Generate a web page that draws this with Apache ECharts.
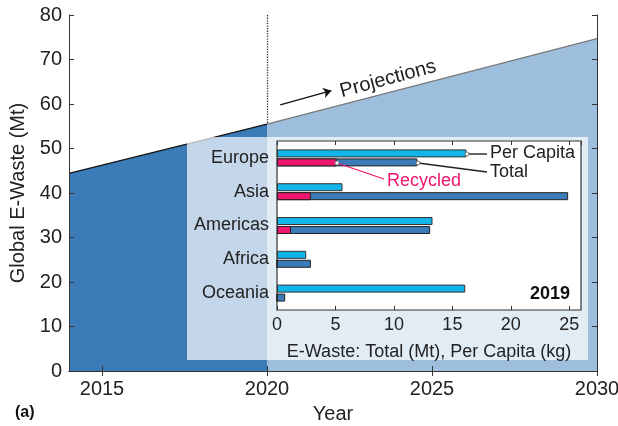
<!DOCTYPE html>
<html>
<head>
<meta charset="utf-8">
<script src="https://cdn.jsdelivr.net/npm/echarts@6/dist/echarts.min.js"></script>
<style>
  html, body { margin: 0; padding: 0; background: #fff; }
  #chart { width: 618px; height: 426px; }
</style>
</head>
<body>
<div id="chart"></div>
<script>
// Global e-waste generated (Mt): reported up to 2020, projected to 2030
const historicYears = [2014, 2019, 2020];
const historicWaste = [44.4, 53.6, 55.5];
const projectedYears = [2020, 2030];
const projectedWaste = [55.5, 74.7];
const yearTicks = [2015, 2020, 2025, 2030];

// 2019 breakdown by region
const regions = ['Europe', 'Asia', 'Americas', 'Africa', 'Oceania'];
const perCapitaKg = [16.2, 5.6, 13.3, 2.5, 16.1];
const totalMt = [12.0, 24.9, 13.1, 2.9, 0.7];
const recycledMt = [5.1, 2.9, 1.2, 0, 0];

const FONT = '"Liberation Sans", Arial, sans-serif';
const INK = '#222';
const DARK = '#3a7bb8';
const LIGHT = '#9dbfdd';
const CYAN = '#12b4ec';
const PINK = '#f0156f';

const chart = echarts.init(document.getElementById('chart'), null, { renderer: 'canvas' });

const pair = (xs, ys) => xs.map((x, i) => [x, ys[i]]);

const mainAxisLine = { show: true, lineStyle: { color: '#333', width: 1 } };
const insetTick = { show: true, inside: true, length: 4, lineStyle: { color: '#333' } };

const option = {
  animation: false,
  textStyle: { fontFamily: FONT, color: INK },
  grid: [
    { left: 69, right: 21, top: 15, bottom: 55, outerBoundsMode: 'none', containLabel: false },
    { left: 277, right: 37, top: 141, bottom: 116, show: true, backgroundColor: '#fff',
      borderColor: '#333', borderWidth: 1.2, z: 4, outerBoundsMode: 'none', containLabel: false }
  ],
  xAxis: [
    { gridIndex: 0, type: 'value', min: 2014, max: 2030, z: 3,
      name: 'Year', nameLocation: 'middle', nameGap: 33,
      nameTextStyle: { fontSize: 20, color: INK, fontFamily: FONT },
      axisLine: mainAxisLine,
      axisTick: { show: true, inside: true, length: 5, customValues: yearTicks, lineStyle: { color: '#333' } },
      axisLabel: { customValues: yearTicks, fontSize: 20, color: INK, margin: 8, fontFamily: FONT,
        hideOverlap: false, formatter: v => String(v) },
      splitLine: { show: false } },
    { gridIndex: 0, type: 'value', position: 'top', min: 2014, max: 2030, z: 3,
      axisLine: mainAxisLine,
      axisTick: { show: true, inside: true, length: 5, customValues: yearTicks, lineStyle: { color: '#333' } },
      axisLabel: { show: false }, splitLine: { show: false } },
    { gridIndex: 1, type: 'value', min: 0, max: 26, interval: 5, z: 6,
      name: 'E-Waste: Total (Mt), Per Capita (kg)', nameLocation: 'middle', nameGap: 33,
      nameTextStyle: { fontSize: 18, color: INK, fontFamily: FONT },
      axisLine: { show: false }, axisTick: insetTick,
      axisLabel: { fontSize: 18, color: INK, margin: 6, showMaxLabel: false, fontFamily: FONT },
      splitLine: { show: false } },
    { gridIndex: 1, type: 'value', position: 'top', min: 0, max: 26, interval: 5, z: 6,
      axisLine: { show: false }, axisTick: insetTick,
      axisLabel: { show: false }, splitLine: { show: false } }
  ],
  yAxis: [
    { gridIndex: 0, type: 'value', min: 0, max: 80, interval: 10, z: 3,
      name: 'Global E-Waste (Mt)', nameLocation: 'middle', nameGap: 38,
      nameTextStyle: { fontSize: 20, color: INK, fontFamily: FONT },
      axisLine: mainAxisLine,
      axisTick: { show: true, inside: true, length: 5, lineStyle: { color: '#333' } },
      axisLabel: { fontSize: 20, color: INK, margin: 7, fontFamily: FONT },
      splitLine: { show: false } },
    { gridIndex: 0, type: 'value', position: 'right', min: 0, max: 80, interval: 10, z: 3,
      axisLine: mainAxisLine,
      axisTick: { show: true, inside: true, length: 5, lineStyle: { color: '#333' } },
      axisLabel: { show: false }, splitLine: { show: false } },
    { gridIndex: 1, type: 'category', data: regions, inverse: true, z: 6,
      axisLine: { show: false }, axisTick: { show: false },
      axisLabel: { fontSize: 18, color: INK, margin: 8, fontFamily: FONT } },
    { gridIndex: 1, type: 'category', data: regions, inverse: true, show: false }
  ],
  series: [
    { name: 'Reported', type: 'line', xAxisIndex: 0, yAxisIndex: 0,
      data: pair(historicYears, historicWaste), symbol: 'none', z: 2,
      lineStyle: { color: '#111', width: 1.3 },
      areaStyle: { color: DARK, opacity: 1, origin: 'start' },
      markLine: { silent: true, symbol: 'none', label: { show: false },
        lineStyle: { color: '#333', type: 'dotted', width: 1.3 },
        data: [[{ coord: [2020, 80] }, { coord: [2020, 55.5] }]] } },
    { name: 'Projected', type: 'line', xAxisIndex: 0, yAxisIndex: 0,
      data: pair(projectedYears, projectedWaste), symbol: 'none', z: 2,
      lineStyle: { color: '#7a7a7a', width: 1.3 },
      areaStyle: { color: LIGHT, opacity: 1, origin: 'start' },
      markLine: { silent: true, symbol: ['none', 'arrow'], symbolSize: 8,
        label: { show: false }, lineStyle: { color: '#111', type: 'solid', width: 1.3 },
        data: [[{ coord: [2020.4, 59.8] }, { coord: [2021.95, 63.0] }]] } },
    { name: 'Per Capita', type: 'bar', xAxisIndex: 2, yAxisIndex: 2, z: 5,
      data: perCapitaKg, barWidth: 8, barGap: '12%',
      itemStyle: { color: CYAN, borderColor: '#333', borderWidth: 1 } },
    { name: 'Total', type: 'bar', xAxisIndex: 2, yAxisIndex: 2, z: 5,
      data: totalMt, barWidth: 8, barGap: '12%',
      itemStyle: { color: DARK, borderColor: '#222', borderWidth: 1 } },
    // empty slot so that the recycled bars line up with the totals
    { name: 'slot', type: 'bar', xAxisIndex: 2, yAxisIndex: 3, z: 6,
      data: regions.map(() => '-'), barWidth: 8, barGap: '12%' },
    { name: 'Recycled', type: 'bar', xAxisIndex: 2, yAxisIndex: 3, z: 6,
      data: recycledMt, barWidth: 8, barGap: '12%',
      itemStyle: { color: PINK, borderColor: '#222', borderWidth: 1 } }
  ],
  graphic: [
    // translucent panel behind the regional breakdown
    { type: 'rect', z: 3, silent: true,
      shape: { x: 187, y: 137, width: 401, height: 223 },
      style: { fill: 'rgba(255,255,255,0.7)' } },
    { type: 'text', z: 10, x: 388, y: 79, rotation: 15 * Math.PI / 180,
      style: { text: 'Projections', fill: INK, font: '20px ' + FONT,
        textAlign: 'center', textVerticalAlign: 'middle' } },
    // callouts
    { type: 'line', z: 10, shape: { x1: 467, y1: 154, x2: 487, y2: 154 },
      style: { stroke: '#333', lineWidth: 1.5 } },
    { type: 'circle', z: 11, shape: { cx: 467, cy: 154, r: 2 },
      style: { fill: '#fff', stroke: '#555', lineWidth: 0.8 } },
    { type: 'text', z: 10, x: 490, y: 153,
      style: { text: 'Per Capita', fill: INK, font: '18px ' + FONT, textVerticalAlign: 'middle' } },
    { type: 'line', z: 10, shape: { x1: 418, y1: 163, x2: 487, y2: 172 },
      style: { stroke: '#222', lineWidth: 1.3 } },
    { type: 'circle', z: 11, shape: { cx: 418, cy: 163, r: 2 },
      style: { fill: '#fff', stroke: '#555', lineWidth: 0.8 } },
    { type: 'text', z: 10, x: 490, y: 172,
      style: { text: 'Total', fill: INK, font: '18px ' + FONT, textVerticalAlign: 'middle' } },
    { type: 'line', z: 10, shape: { x1: 337, y1: 163, x2: 384, y2: 179 },
      style: { stroke: PINK, lineWidth: 1.3 } },
    { type: 'circle', z: 11, shape: { cx: 337, cy: 163, r: 2 },
      style: { fill: '#fff', stroke: '#777', lineWidth: 0.8 } },
    { type: 'text', z: 10, x: 387, y: 181,
      style: { text: 'Recycled', fill: PINK, font: '18px ' + FONT, textVerticalAlign: 'middle' } },
    { type: 'text', z: 10, x: 570, y: 294,
      style: { text: '2019', fill: '#111', font: 'bold 18px ' + FONT,
        textAlign: 'right', textVerticalAlign: 'middle' } },
    { type: 'text', z: 10, x: 15, y: 413,
      style: { text: '(a)', fill: '#111', font: 'bold 16px ' + FONT, textVerticalAlign: 'middle' } }
  ]
};

chart.setOption(option);
</script>
</body>
</html>
